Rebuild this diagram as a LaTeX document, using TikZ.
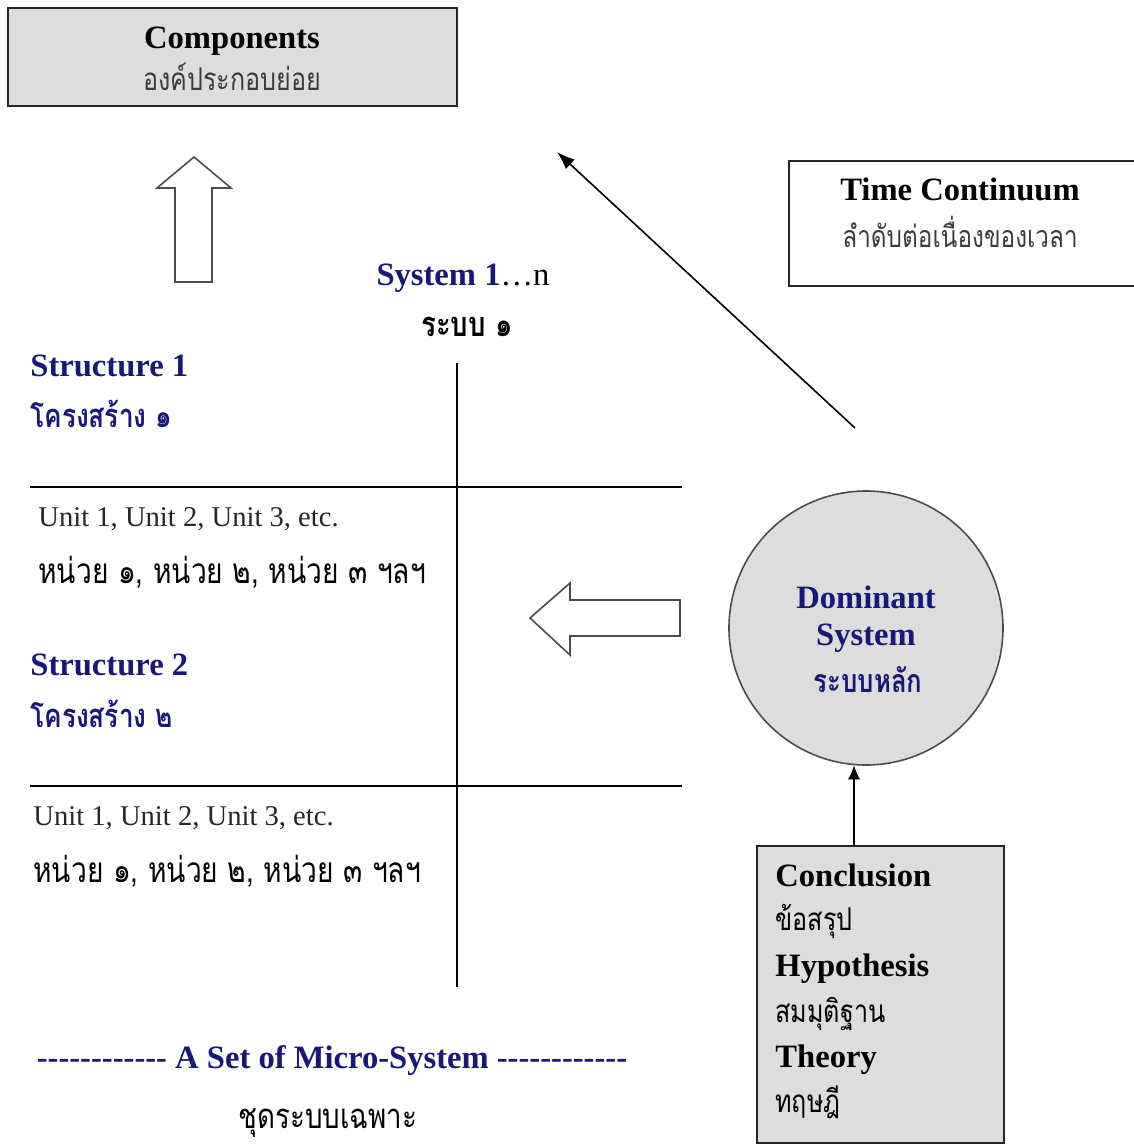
\documentclass[tikz,border=0pt]{standalone}
\usepackage{fontspec}
\setmainfont{Liberation Serif}
\newfontfamily\thaifont[Script=Thai, FakeStretch=0.8]{Loma}
\usetikzlibrary{arrows.meta}
\definecolor{headblue}{RGB}{24,24,122}
\definecolor{boxgray}{RGB}{221,221,221}
\definecolor{thaigray}{RGB}{60,60,60}
\newcommand{\headsize}{\fontsize{16.3pt}{20pt}\selectfont}
\newcommand{\unitsize}{\fontsize{14.3pt}{18pt}\selectfont}

\begin{document}
\begin{tikzpicture}[x=0.5pt, y=-0.5pt,
		txt/.style={inner sep=0pt, anchor=base west},
		ctxt/.style={inner sep=0pt, anchor=base},
		headtxt/.style={font=\headsize\bfseries},
		unittxt/.style={font=\unitsize, text=black!85},
		thaitxt/.style={font=\thaifont\fontsize{#1}{18pt}\selectfont},
		thaitxt/.default=17pt,
		thaibold/.style={font=\thaifont\fontsize{#1}{18pt}\selectfont\bfseries},
		graybox/.style={draw=black!85, line width=1pt, fill=boxgray},
		hollow/.style={draw=black!70, line width=0.8pt, fill=white}]
		\useasboundingbox (0,0) rectangle (1134,1146);
		
		% Components box
		\node[graybox, minimum width=224.5pt, minimum height=49pt] (components) at (232.5,57) {};
		\node[ctxt, headtxt] (comp_en) at (232,48) {Components};
		\node[ctxt, thaitxt=15.7pt, text=thaigray] (comp_th) at (232,90) {องค์ประกอบย่อย};
		
		% Hollow up arrow
		\draw[hollow] (194,157) -- (231,188) -- (212,188) -- (212,282) -- (175,282) -- (175,188) -- (157,188) -- cycle;
		
		% Time continuum
		\node[draw=black!85, line width=1pt, minimum width=180.5pt, minimum height=62.5pt] (timebox) at (969.5,223.5) {};
		\node[ctxt, headtxt] (time_en) at (960,200) {Time Continuum};
		\node[ctxt, thaitxt=15.2pt, text=thaigray] (time_th) at (960,247) {ลำดับต่อเนื่องของเวลา};
		\coordinate (time_from) at (855,428);
		\coordinate (time_to) at (557,152);
		\draw[-{Latex[length=9pt, width=6.5pt]}, line width=0.8pt] (time_from) -- (time_to);
		
		% System 1...n
		\node[ctxt, font=\headsize] (system) at (463,285) {{\bfseries\color{headblue}System 1}…n};
		\node[ctxt, thaibold=17.2pt] (system_th) at (467,336) {ระบบ ๑};
		
		% Cross lines
		\draw[line width=0.8pt] (457,363) -- (457,987);
		\draw[line width=0.8pt] (30,487) -- (682,487);
		\draw[line width=0.8pt] (30,786) -- (682,786);
		
		% Structure 1
		\node[txt, headtxt, text=headblue] (struct1) at (30,376) {Structure 1};
		\node[txt, thaibold=16.4pt, text=headblue] (struct1_th) at (30,427) {โครงสร้าง ๑};
		\node[txt, unittxt] (unit1) at (38,526) {Unit 1, Unit 2, Unit 3, etc.};
		\node[txt, thaitxt=17.6pt] (unit1_th) at (38,583) {หน่วย ๑, หน่วย ๒, หน่วย ๓ ฯลฯ};
		
		% Structure 2
		\node[txt, headtxt, text=headblue] (struct2) at (30,675) {Structure 2};
		\node[txt, thaibold=16.4pt, text=headblue] (struct2_th) at (30,727) {โครงสร้าง ๒};
		\node[txt, unittxt] (unit2) at (33,825) {Unit 1, Unit 2, Unit 3, etc.};
		\node[txt, thaitxt=17.6pt] (unit2_th) at (33,882) {หน่วย ๑, หน่วย ๒, หน่วย ๓ ฯลฯ};
		
		% Hollow left arrow
		\draw[hollow] (530,618) -- (570,583) -- (570,600) -- (680,600) -- (680,636) -- (570,636) -- (570,655) -- cycle;
		
		% Dominant system
		\node[circle, draw=black!70, line width=0.8pt, fill=boxgray, minimum size=137pt] (dominant) at (866,628) {};
		\node[ctxt, headtxt, text=headblue] (dom_en1) at (866,608) {Dominant};
		\node[ctxt, headtxt, text=headblue] (dom_en2) at (866,645) {System};
		\node[ctxt, thaibold=16.1pt, text=headblue] (dom_th) at (868,692) {ระบบหลัก};
		
		% Conclusion box
		\node[graybox, minimum width=123.5pt, minimum height=148.5pt] (conclusion) at (880.5,994.5) {};
		\node[txt, headtxt] (concl_en) at (775,886) {Conclusion};
		\node[txt, thaitxt=15.7pt] (concl_th) at (775,930) {ข้อสรุป};
		\node[txt, headtxt] (hypo_en) at (775,976) {Hypothesis};
		\node[txt, thaitxt=15.7pt] (hypo_th) at (775,1022) {สมมุติฐาน};
		\node[txt, headtxt] (theory_en) at (775,1067) {Theory};
		\node[txt, thaitxt=15.7pt] (theory_th) at (775,1112) {ทฤษฎี};
		\draw[-{Latex[length=7pt, width=6pt]}, line width=0.8pt] (conclusion.north -| dominant.265) -- (dominant.265);
		
		% Micro-system
		\node[ctxt, headtxt, text=headblue] (micro) at (332,1068) {{-}{-}{-}{-}{-}{-}{-}{-}{-}{-}{-}{-} A Set of Micro-System {-}{-}{-}{-}{-}{-}{-}{-}{-}{-}{-}{-}};
		\node[ctxt, thaitxt=17.3pt] (micro_th) at (328,1128) {ชุดระบบเฉพาะ};
	\end{tikzpicture}
\end{document}
